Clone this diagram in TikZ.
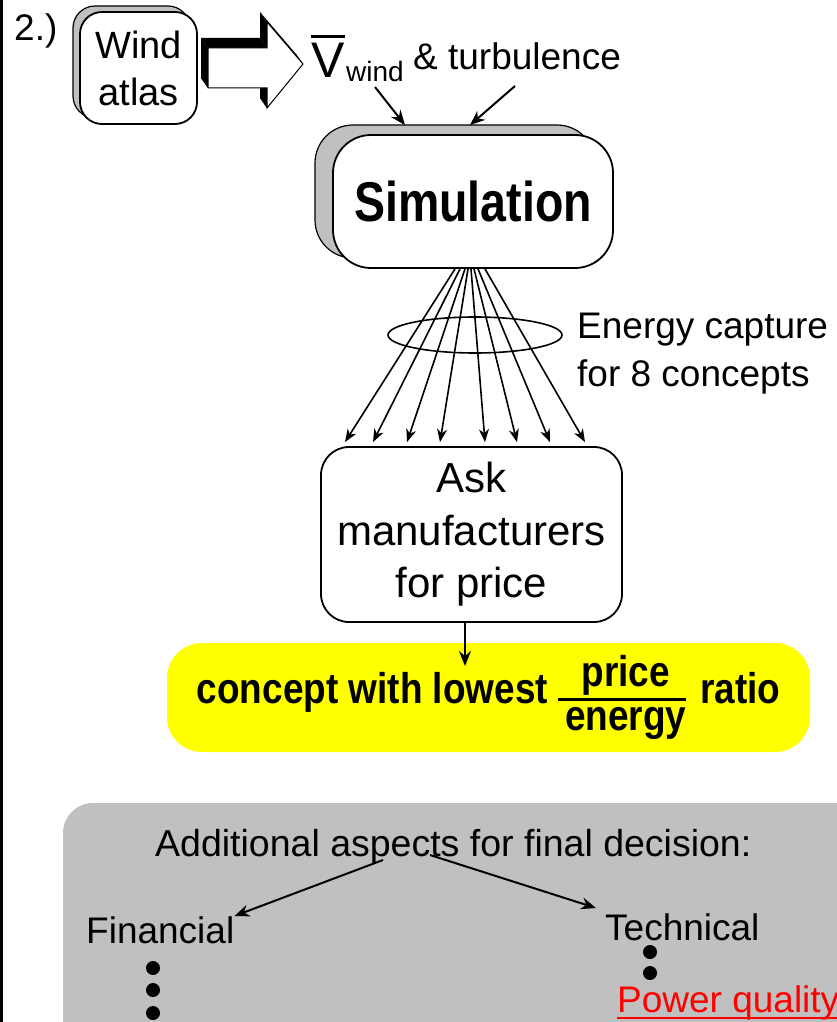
\documentclass[tikz,border=0pt]{standalone}
\usepackage{graphicx}
\usepackage{fontspec}
\setmainfont{Liberation Sans}
\usetikzlibrary{arrows.meta,shapes.geometric,calc}
\definecolor{boxgray}{HTML}{C0C0C0}
\definecolor{hiyellow}{HTML}{FFFF00}
\definecolor{hired}{HTML}{FF0000}
\newcommand\fsz[2]{\fontsize{#1}{#2}\selectfont}
\newcommand\pfrac[2]{\ensuremath{\vcenter{\halign{\hskip8pt\hfil##\hfil\cr #1\cr\noalign{\kern3pt\hrule height3pt\kern6pt}#2\cr}}}}
\tikzset{
  boxmain/.style={draw=black, fill=white, line width=1.8pt, inner sep=0pt},
  boxshadow/.style={draw=black, fill=boxgray, line width=1.2pt, inner sep=0pt},
  txt/.style={inner sep=0pt, anchor=base west},
  arr/.style={line width=2pt, -{Stealth[length=15pt,width=12pt,inset=5pt]}},
  fanarr/.style={line width=1.6pt, -{Stealth[length=13pt,width=10pt,inset=4pt]}},
  dot/.style={fill=black}
}
\begin{document}
\begin{tikzpicture}[x=1pt,y=-1pt]
\clip (0,0) rectangle (837,1022);
\fill[white] (0,0) rectangle (837,1022);
\fill[black] (0,0) rectangle (3,1022);

% step number
\node[txt, font=\fsz{37}{37}] (num) at (14,41) {2.)};

% wind atlas box
\node[boxshadow, rounded corners=22pt, minimum width=117pt, minimum height=112pt] (windsh) at (131.5,62) {};
\node[boxmain, rounded corners=22pt, minimum width=117pt, minimum height=112pt, align=center, font=\fsz{38}{47}] (wind) at (138.5,68) {Wind\\atlas};

% block arrow with black extrusion
\coordinate (A) at (208,48);
\coordinate (B) at (267,48);
\coordinate (C) at (267,22);
\coordinate (D) at (303,64);
\coordinate (E) at (267,108);
\coordinate (F) at (267,88);
\coordinate (G) at (208,88);
\foreach \p/\q in {A/B,B/C,C/D,D/E,E/F,F/G,G/A}
  \fill[black] (\p) -- (\q) -- ([shift={(-7,-10)}]\q) -- ([shift={(-7,-10)}]\p) -- cycle;
\draw[fill=white, line width=1pt, line join=miter] (A) -- (B) -- (C) -- (D) -- (E) -- (F) -- (G) -- cycle;

% V wind & turbulence
\node[txt, font=\fsz{50}{50}] (vbar) at (311,78) {V};
\draw[line width=3pt] ([yshift=7pt]vbar.north west) -- ([yshift=7pt]vbar.north east);
\node[txt, font=\fsz{28}{28}] (vsub) at (346,82) {wind};
\node[txt, font=\fsz{37}{37}] (turb) at (413,70) {\& turbulence};

% simulation box
\node[boxshadow, rounded corners=38pt, minimum width=280pt, minimum height=133pt] (simsh) at (455,191.5) {};
\node[boxmain, rounded corners=38pt, minimum width=280pt, minimum height=133pt, font=\bfseries\fsz{56}{60}] (sim) at (473,201.5) {\scalebox{0.83}[1]{Simulation}};

\coordinate (va) at (375,87);
\coordinate (vb) at (515,86);
\draw[arr] (va) -- ([xshift=-68pt,yshift=9pt]sim.north);
\draw[arr] (vb) -- ([xshift=-3pt,yshift=9pt]sim.north);

% ask box
\node[boxmain, rounded corners=28pt, minimum width=301pt, minimum height=175pt, align=center, font=\fsz{42}{52.5}] (ask) at (471.5,534.5) {Ask\\manufacturers\\for price};

% fan of 8 arrows
\foreach \s/\e in {-18/-126.5, -13/-98.5, -8/-64.5, -5/-31.5, -2/13.5, 1/45.5, 5/78.5, 12/113.5}
  \draw[fanarr] ([xshift=\s pt]sim.south) -- ([xshift=\e pt, yshift=4pt]ask.north);

\node[draw, ellipse, line width=1.6pt, minimum width=174pt, minimum height=36pt, inner sep=0pt] (capt) at (475,335) {};
\node[anchor=north west, inner sep=0pt, align=left, font=\fsz{37}{48}] (energy) at (577,313) {Energy capture\\for 8 concepts};

% result
\node[fill=hiyellow, rounded corners=35pt, minimum width=643pt, minimum height=109pt, inner sep=0pt, font=\bfseries\fsz{43}{50}] (res) at (488.5,697.5) {\scalebox{0.86}[1]{concept with lowest \pfrac{price}{energy}\hspace{4pt} ratio}};
\coordinate (restip) at (465,666);
\draw[arr] ([xshift=-6.5pt]ask.south) -- (restip);

% additional aspects
\fill[boxgray, rounded corners=30pt] (63,803) rectangle (920,1100);
\node[txt, font=\fsz{37.5}{37.5}] (addl) at (155,856) {Additional aspects for final decision:};
\node[txt, font=\fsz{37}{37}] (fin) at (86,943) {Financial};
\node[txt, font=\fsz{37}{37}] (tech) at (605,940) {Technical};
\coordinate (al) at (383,860);
\coordinate (ar) at (430,855);
\draw[arr] (al) -- (fin.north east);
\draw[arr] (ar) -- ([xshift=-9pt,yshift=5pt]tech.north west);
\fill[dot] (153,968) circle (7);
\fill[dot] (153,990) circle (7);
\fill[dot] (153,1013) circle (7);
\fill[dot] (650,952) circle (7);
\fill[dot] (650,973) circle (7);
\node[txt, font=\fsz{37}{37}, text=hired] (pq) at (617,1012) {Power quality};
\draw[hired, line width=2pt] ([yshift=-6pt]pq.base west) -- ([yshift=-6pt]pq.base east);
\end{tikzpicture}
\end{document}
